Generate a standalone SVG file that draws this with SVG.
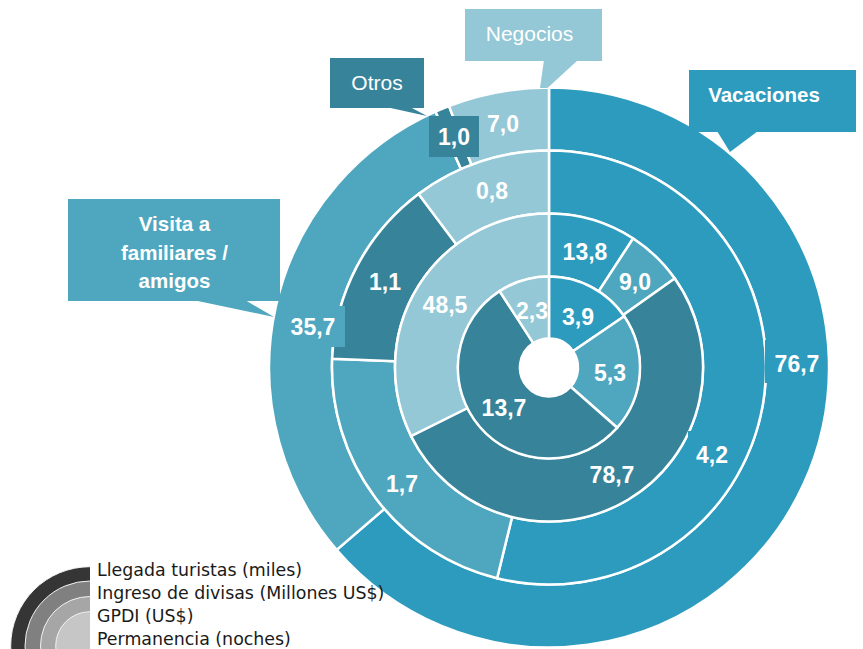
<svg xmlns="http://www.w3.org/2000/svg" width="863" height="649" viewBox="0 0 863 649">
<style>
.seg{stroke:#fff;stroke-width:2.5;stroke-linejoin:miter}
.vac{fill:#2d9bbd}
.vis{fill:#4fa7bf}
.otr{fill:#37849a}
.neg{fill:#94c8d6}
.lbl{font-family:"Liberation Sans",Arial,sans-serif;font-weight:bold;font-size:23px;fill:#fff;text-anchor:middle}
.cl{font-family:"Liberation Sans",Arial,sans-serif;font-size:21px;fill:#fff;text-anchor:middle}
.clb{font-family:"Liberation Sans",Arial,sans-serif;font-size:20.5px;font-weight:bold;fill:#fff;text-anchor:middle}
.leg{font-family:"DejaVu Sans",Verdana,sans-serif;font-size:17.4px;fill:#1a1a1a}
.lgs{stroke:#f2f2f2;stroke-width:1}
</style>
<defs>
<clipPath id="lclip"><rect x="0" y="500" width="90" height="149"/></clipPath>
</defs>
<rect width="863" height="649" fill="#fff"/>
<g id="connectors"></g>
<g id="ring-llegada">
<path id="r1-vacaciones" class="seg vac" d="M549,87.5 A280,280 0 1 1 336.6,549.9 L384.4,508.9 A217,217 0 1 0 549,150.5 Z"/>
<path id="r1-visita" class="seg vis" d="M336.6,549.9 A280,280 0 0 1 435.5,111.6 L461,169.1 A217,217 0 0 0 384.4,508.9 Z"/>
<path id="r1-otros" class="seg otr" d="M435.5,111.6 A280,280 0 0 1 449,106 L471.5,164.8 A217,217 0 0 0 461,169.1 Z"/>
<path id="r1-negocios" class="seg neg" d="M449,106 A280,280 0 0 1 549,87.5 L549,150.5 A217,217 0 0 0 471.5,164.8 Z"/>
</g>
<g id="ring-ingreso">
<path class="seg vac" d="M549,150.5 A217,217 0 1 1 497.1,578.2 L512.1,517 A154,154 0 1 0 549,213.5 Z"/>
<path class="seg vis" d="M497.1,578.2 A217,217 0 0 1 332.2,358.8 L395.1,361.3 A154,154 0 0 0 512.1,517 Z"/>
<path class="seg otr" d="M332.2,358.8 A217,217 0 0 1 418.6,194 L456.5,244.4 A154,154 0 0 0 395.1,361.3 Z"/>
<path class="seg neg" d="M418.6,194 A217,217 0 0 1 549,150.5 L549,213.5 A154,154 0 0 0 456.5,244.4 Z"/>
</g>
<g id="ring-gpdi">
<path class="seg vac" d="M549,213.5 A154,154 0 0 1 633.1,238.5 L598.7,291.3 A91,91 0 0 0 549,276.5 Z"/>
<path class="seg vis" d="M633.1,238.5 A154,154 0 0 1 674.7,278.5 L623.3,314.9 A91,91 0 0 0 598.7,291.3 Z"/>
<path class="seg otr" d="M674.7,278.5 A154,154 0 1 1 411.1,436 L467.5,408 A91,91 0 1 0 623.3,314.9 Z"/>
<path class="seg neg" d="M411.1,436 A154,154 0 0 1 549,213.5 L549,276.5 A91,91 0 0 0 467.5,408 Z"/>
</g>
<g id="ring-permanencia">
<path class="seg vac" d="M549,276.5 A91,91 0 0 1 624.2,316.2 L573,351.2 A29,29 0 0 0 549,338.5 Z"/>
<path class="seg vis" d="M624.2,316.2 A91,91 0 0 1 617.2,427.7 L570.7,386.7 A29,29 0 0 0 573,351.2 Z"/>
<path class="seg otr" d="M617.2,427.7 A91,91 0 1 1 499.6,291.1 L533.3,343.1 A29,29 0 1 0 570.7,386.7 Z"/>
<path class="seg neg" d="M499.6,291.1 A91,91 0 0 1 549,276.5 L549,338.5 A29,29 0 0 0 533.3,343.1 Z"/>
</g>
<g id="data-labels">
<rect class="vac" x="765" y="340" width="58" height="43"/>
<rect class="vac" x="688" y="431" width="44" height="44"/>
<rect class="vis" x="285" y="306" width="60" height="41"/>
<rect class="otr" x="429" y="116" width="50" height="41"/>
<text class="lbl" x="797" y="372">76,7</text>
<text class="lbl" x="712" y="463">4,2</text>
<text class="lbl" x="313" y="335">35,7</text>
<text class="lbl" x="454" y="145">1,0</text>
<text class="lbl" x="503" y="132">7,0</text>
<text class="lbl" x="492" y="199">0,8</text>
<text class="lbl" x="385" y="290">1,1</text>
<text class="lbl" x="445" y="313">48,5</text>
<text class="lbl" x="532" y="319">2,3</text>
<text class="lbl" x="585" y="260">13,8</text>
<text class="lbl" x="635" y="290">9,0</text>
<text class="lbl" x="578" y="325">3,9</text>
<text class="lbl" x="610" y="381">5,3</text>
<text class="lbl" x="504" y="416">13,7</text>
<text class="lbl" x="612" y="483">78,7</text>
<text class="lbl" x="402" y="492">1,7</text>
</g>
<g id="callout-negocios">
<rect class="neg" x="465" y="9" width="137" height="52"/>
<polygon class="neg" points="544,60 578,60 547.5,88 540,88"/>
<text class="cl" x="529.5" y="41">Negocios</text>
</g>
<g id="callout-otros">
<rect class="otr" x="330" y="58" width="94" height="50"/>
<polygon class="otr" points="386,107 410,107 427,116"/>
<text class="cl" x="377" y="90">Otros</text>
</g>
<g id="callout-vacaciones">
<rect class="vac" x="689" y="70" width="167" height="62"/>
<polygon class="vac" points="717,131 758,131 730,152"/>
<text class="clb" x="764" y="102">Vacaciones</text>
</g>
<g id="callout-visita">
<rect class="vis" x="68" y="199" width="212" height="102"/>
<polygon class="vis" points="193,300 245,300 274,317"/>
<text class="clb" x="174.5" y="231">Visita a</text>
<text class="clb" x="174.5" y="260">familiares /</text>
<text class="clb" x="174.5" y="288">amigos</text>
</g>
<g id="legend">
<g clip-path="url(#lclip)">
<circle class="lgs" cx="90" cy="646" r="79.3" fill="#353535" stroke="none"/>
<circle class="lgs" cx="90" cy="646" r="65" fill="#808080"/>
<circle class="lgs" cx="90" cy="646" r="49.5" fill="#a6a6a6"/>
<circle class="lgs" cx="90" cy="646" r="34.3" fill="#c6c6c6"/>
</g>
<text class="leg" x="97" y="576">Llegada turistas (miles)</text>
<text class="leg" x="97" y="599">Ingreso de divisas (Millones US$)</text>
<text class="leg" x="97" y="622">GPDI (US$)</text>
<text class="leg" x="97" y="645">Permanencia (noches)</text>
</g>
</svg>
